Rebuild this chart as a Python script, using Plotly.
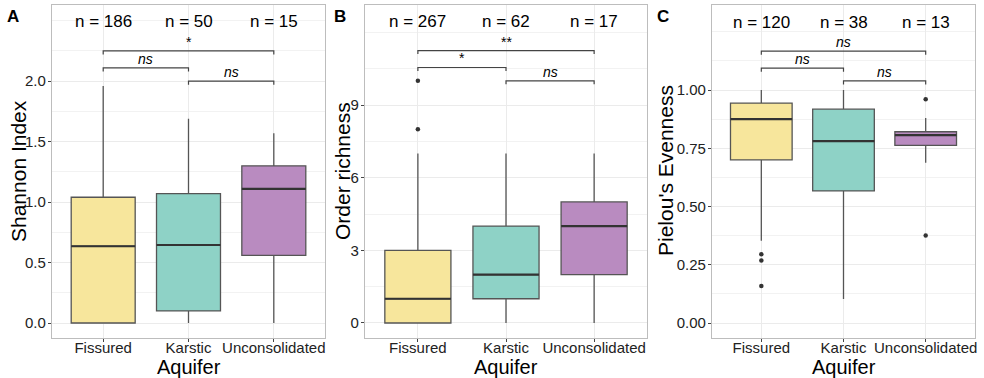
import plotly.graph_objects as go

aquifers = ["Fissured", "Karstic", "Unconsolidated"]
fills = ["#F7E69C", "#8ED2C6", "#B98BC0"]

# panel A - Shannon index
sh_low = [0.0, 0.0, 0.0]
sh_q1 = [0.0, 0.10, 0.56]
sh_med = [0.635, 0.645, 1.11]
sh_q3 = [1.04, 1.07, 1.30]
sh_high = [1.96, 1.69, 1.57]
sh_out_x, sh_out_y = [], []
sh_n = [186, 50, 15]
sh_sig = [("Fissured", "Unconsolidated", 2.25, "*"),
          ("Fissured", "Karstic", 2.11, "<i>ns</i>"),
          ("Karstic", "Unconsolidated", 2.0, "<i>ns</i>")]

# panel B - order richness
ri_low = [0, 0, 0]
ri_q1 = [0, 1, 2]
ri_med = [1, 2, 4]
ri_q3 = [3, 4, 5]
ri_high = [7, 7, 7]
ri_out_x = ["Fissured", "Fissured"]
ri_out_y = [8, 10]
ri_n = [267, 62, 17]
ri_sig = [("Fissured", "Unconsolidated", 11.25, "**"),
          ("Fissured", "Karstic", 10.55, "*"),
          ("Karstic", "Unconsolidated", 10.0, "<i>ns</i>")]

# panel C - Pielou's evenness
pe_low = [0.353, 0.103, 0.688]
pe_q1 = [0.70, 0.567, 0.763]
pe_med = [0.875, 0.781, 0.807]
pe_q3 = [0.944, 0.918, 0.821]
pe_high = [1.0, 1.0, 0.88]
pe_out_x = ["Fissured", "Fissured", "Fissured", "Unconsolidated", "Unconsolidated"]
pe_out_y = [0.295, 0.269, 0.159, 0.961, 0.376]
pe_n = [120, 38, 13]
pe_sig = [("Fissured", "Unconsolidated", 1.167, "<i>ns</i>"),
          ("Fissured", "Karstic", 1.094, "<i>ns</i>"),
          ("Karstic", "Unconsolidated", 1.039, "<i>ns</i>")]

W, H = 984, 378
FONT = "Liberation Sans, Arial, sans-serif"


def px(x):
    return x / W


def py(y):
    return 1 - y / H


panels = [
    dict(letter="A", title="Shannon Index", x0=52, x1=325, yr=[-0.124, 2.63],
         ticks=[0, 0.5, 1.0, 1.5, 2.0], ticktext=["0.0", "0.5", "1.0", "1.5", "2.0"],
         grid=[0.25, 0.75, 1.25, 1.75, 2.25, 2.5], ny=2.49, ytx=19, ltx=13,
         low=sh_low, q1=sh_q1, med=sh_med, q3=sh_q3, high=sh_high,
         ox=sh_out_x, oy=sh_out_y, n=sh_n, sig=sh_sig),
    dict(letter="B", title="Order richness", x0=365, x1=647, yr=[-0.62, 13.13],
         ticks=[0, 3, 6, 9], ticktext=["0", "3", "6", "9"],
         grid=[1.5, 4.5, 7.5, 10.5, 12], ny=12.43, ytx=343, ltx=340,
         low=ri_low, q1=ri_q1, med=ri_med, q3=ri_q3, high=ri_high,
         ox=ri_out_x, oy=ri_out_y, n=ri_n, sig=ri_sig),
    dict(letter="C", title="Pielou's Evenness", x0=712, x1=975, yr=[-0.064, 1.365],
         ticks=[0, 0.25, 0.5, 0.75, 1.0], ticktext=["0.00", "0.25", "0.50", "0.75", "1.00"],
         grid=[0.125, 0.375, 0.625, 0.875, 1.125, 1.25], ny=1.292, ytx=666, ltx=663,
         low=pe_low, q1=pe_q1, med=pe_med, q3=pe_q3, high=pe_high,
         ox=pe_out_x, oy=pe_out_y, n=pe_n, sig=pe_sig),
]

fig = go.Figure()
shapes = []
annots = []
ytop, ybot = py(5), py(338)

for k, p in enumerate(panels):
    xa = "x" if k == 0 else f"x{k+1}"
    ya = "y" if k == 0 else f"y{k+1}"
    for i, a in enumerate(aquifers):
        fig.add_trace(go.Box(
            x=[a], q1=[p["q1"][i]], median=[p["med"][i]], q3=[p["q3"][i]],
            lowerfence=[p["low"][i]], upperfence=[p["high"][i]],
            fillcolor=fills[i], line=dict(color="#555555", width=1.3),
            whiskerwidth=0, width=0.75, boxpoints=False, showlegend=False,
            xaxis=xa, yaxis=ya))
        # thicker median like ggplot
        shapes.append(dict(type="line", xref=xa, yref=ya, x0=i - 0.375, x1=i + 0.375,
                           y0=p["med"][i], y1=p["med"][i],
                           line=dict(color="#333333", width=2.2), layer="above"))
        annots.append(dict(x=a, y=p["ny"], xref=xa, yref=ya, text=f"n = {p['n'][i]}",
                           showarrow=False, font=dict(size=17, color="black", family=FONT)))
    if p["ox"]:
        fig.add_trace(go.Scatter(x=p["ox"], y=p["oy"], mode="markers",
                                 marker=dict(color="#333333", size=4.5), showlegend=False,
                                 xaxis=xa, yaxis=ya))
    yspan = p["yr"][1] - p["yr"][0]
    tip = yspan * 3.5 / 333
    for g1, g2, yv, lab in p["sig"]:
        i1, i2 = aquifers.index(g1), aquifers.index(g2)
        shapes.append(dict(type="path", xref=xa, yref=ya,
                           path=f"M {i1},{yv - tip} L {i1},{yv} L {i2},{yv} L {i2},{yv - tip}",
                           line=dict(color="#444444", width=1.2)))
        annots.append(dict(x=(i1 + i2) / 2, y=yv, xref=xa, yref=ya, text=lab,
                           showarrow=False, xanchor="center", yanchor="bottom", yshift=-1,
                           font=dict(size=14, color="black", family=FONT)))
    annots.append(dict(x=px(p["ltx"]), y=py(16), xref="paper", yref="paper",
                       xanchor="center", yanchor="middle",
                       text=f"<b>{p['letter']}</b>", showarrow=False,
                       font=dict(size=17, color="black", family=FONT)))
    # axis titles
    annots.append(dict(x=px((p["x0"] + p["x1"]) / 2), y=py(367), xref="paper", yref="paper",
                       xanchor="center", yanchor="middle",
                       text="Aquifer", showarrow=False,
                       font=dict(size=20, color="black", family=FONT)))
    annots.append(dict(x=px(p["ytx"]), y=py(171), xref="paper", yref="paper",
                       xanchor="center", yanchor="middle",
                       text=p["title"], showarrow=False, textangle=-90,
                       font=dict(size=21, color="black", family=FONT)))
    axis_x = dict(domain=[px(p["x0"]), px(p["x1"])], anchor=ya, type="category",
                  categoryorder="array", categoryarray=aquifers, range=[-0.6, 2.6],
                  automargin=False,
                  showgrid=True, gridcolor="#EBEBEB", gridwidth=1,
                  showline=True, linecolor="#BDBDBD", linewidth=1.3, mirror=True,
                  ticks="outside", ticklen=3, tickcolor="#444444",
                  ticklabelstandoff=-7,
                  tickfont=dict(size=15, color="#222222", family=FONT))
    axis_y = dict(domain=[ybot, ytop], anchor=xa, range=p["yr"], automargin=False,
                  tickmode="array", tickvals=p["ticks"], ticktext=p["ticktext"],
                  showgrid=True, gridcolor="#EBEBEB", gridwidth=1, zeroline=False,
                  minor=dict(tickvals=p["grid"], showgrid=True, gridcolor="#F2F2F2",
                             gridwidth=1, ticks=""),
                  showline=True, linecolor="#BDBDBD", linewidth=1.3, mirror=True,
                  ticks="outside", ticklen=3, tickcolor="#444444",
                  ticklabelstandoff=-1,
                  tickfont=dict(size=15, color="#222222", family=FONT))
    sfx = "" if k == 0 else str(k + 1)
    fig.update_layout(**{f"xaxis{sfx}": axis_x, f"yaxis{sfx}": axis_y})

fig.update_layout(width=W, height=H, margin=dict(l=0, r=0, t=0, b=0),
                  paper_bgcolor="white", plot_bgcolor="white",
                  shapes=shapes, annotations=annots,
                  font=dict(family=FONT))
# drop the page's default 8px body margin so the figure sits at 0,0
fig.write_html("out.html", config={"displayModeBar": False},
               post_script="document.body.style.margin='0';")
